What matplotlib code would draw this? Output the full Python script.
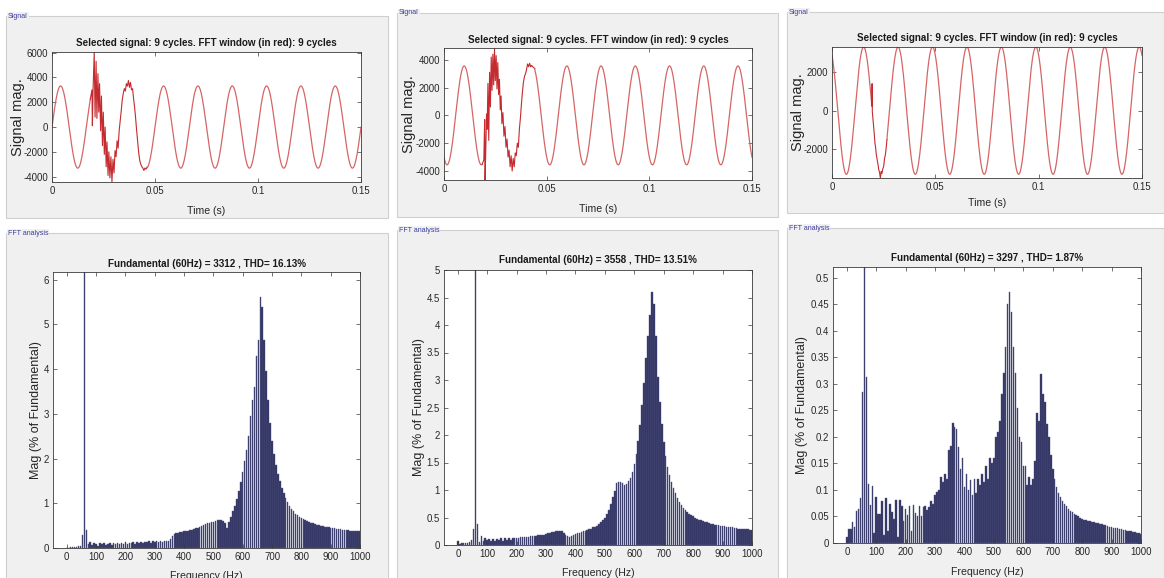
import matplotlib
matplotlib.use("Agg")
import matplotlib.pyplot as plt
import numpy as np
from matplotlib.patches import Rectangle
from matplotlib.ticker import FuncFormatter, MultipleLocator

FONT = ["Liberation Sans Narrow", "Liberation Sans", "DejaVu Sans"]
plt.rcParams["font.family"] = FONT
plt.rcParams["axes.unicode_minus"] = False

# ---------------------------------------------------------------- data
FUND_HZ = 60.0
BIN_HZ = FUND_HZ / 9.0          # 9-cycle window -> 6.67 Hz resolution
N_BINS = 151                    # 0 .. 1000 Hz

case_fundamental = [3312, 3558, 3297]
case_thd = ["16.13%", "13.51%", "1.87%"]
case_peak_time = [0.00417, 0.00983, 0.0153]   # time of first positive peak (s)

# disturbed part of each recorded waveform (time s, value)
dist1_t = [0.0186, 0.0194, 0.0196, 0.0199, 0.0205, 0.0209, 0.0214, 0.0218, 0.0223,
           0.0227, 0.0231, 0.0236, 0.0240, 0.0245, 0.0249, 0.0254, 0.0258, 0.0263,
           0.0267, 0.0272, 0.0276, 0.0281, 0.0286, 0.0291, 0.0296, 0.0301, 0.0306,
           0.0311, 0.0316, 0.0321, 0.0326, 0.0331, 0.0336, 0.0341, 0.0346, 0.0351,
           0.0356, 0.0361, 0.0366, 0.0371, 0.0376, 0.0381, 0.0386, 0.0391, 0.0396,
           0.0401, 0.0406, 0.0411, 0.0416, 0.0421, 0.0426, 0.0431, 0.0436, 0.0441,
           0.0446, 0.0451, 0.0456, 0.0461]
dist1_v = [2250, 3000, 100, 2800, 6050, 800, 5300, 700, 4300,
           1200, 3500, -300, 2500, -1500, 1200, -2200, 0, -3200,
           -1200, -3900, -2000, -4100, -2400, -4430, -2600, -3700, -1900,
           -2400, -1100, -1700, -300, 500, 1300, 2200, 2700, 3100,
           2900, 3500, 3300, 3750, 3200, 3600, 3000, 3100, 2300,
           1600, 700, -300, -1200, -2100, -2700, -3000, -3200, -3300,
           -3500, -3300, -3400, -3250]

dist2_t = [0.0186, 0.0194, 0.0198, 0.0200, 0.0203, 0.0207, 0.0210, 0.0214, 0.0218,
           0.0222, 0.0226, 0.0230, 0.0234, 0.0238, 0.0242, 0.0246, 0.0250, 0.0254,
           0.0258, 0.0262, 0.0266, 0.0270, 0.0274, 0.0278, 0.0282, 0.0287, 0.0292,
           0.0297, 0.0302, 0.0307, 0.0312, 0.0317, 0.0322, 0.0327, 0.0332, 0.0337,
           0.0342, 0.0347, 0.0352, 0.0357, 0.0362, 0.0367, 0.0372, 0.0377, 0.0382,
           0.0387, 0.0392, 0.0397, 0.0402, 0.0407, 0.0412, 0.0417, 0.0422, 0.0427,
           0.0432, 0.0437, 0.0442]
dist2_v = [-3520, -3200, -300, -4650, -2800, 100, -1000, 2300, -1800,
           3100, 600, 4200, 1800, 4400, 2200, 4800, 2500, 4300,
           1900, 3800, 1500, 2600, 400, 1400, -600, 200, -1500,
           -800, -2300, -1700, -3000, -2500, -3700, -2900, -4000, -3100,
           -3700, -2700, -2900, -2000, -2300, -1000, -200, 800, 1700,
           2400, 2800, 3000, 3300, 3700, 3500, 3750, 3500, 3600,
           3500, 3450, 3350]

dist3_t = [0.01930, 0.01940, 0.01945, 0.01950, 0.0200, 0.0204, 0.0208, 0.0211,
           0.0214, 0.0218, 0.0222, 0.0226, 0.0230, 0.0234, 0.0238, 0.0242, 0.0246,
           0.0250, 0.0254, 0.0258, 0.0262, 0.0266]
dist3_v = [250, 1400, 1000, -50, -650, -1150, -1700, -1900,
           -2250, -2500, -2750, -3050, -3200, -3490, -3150, -3250, -3000,
           -2900, -2500, -2300, -1950, -1500]

signal_ylim = [(-4430, 6050), (-4650, 4850), (-3490, 3300)]
signal_yticks = [[-4000, -2000, 0, 2000, 4000, 6000],
                 [-4000, -2000, 0, 2000, 4000],
                 [-2000, 0, 2000]]

# harmonic spectrum, % of fundamental, one value per 6.67 Hz bin (0..1000 Hz)
spec1 = [0.01, 0.01, 0.02, 0.02, 0.02, 0.03, 0.04, 0.05, 0.28, 100,
         0.40, 0.08, 0.13, 0.06, 0.12, 0.09, 0.05, 0.11, 0.08, 0.12,
         0.06, 0.10, 0.12, 0.07, 0.11, 0.09, 0.12, 0.08, 0.12, 0.10,
         0.13, 0.09, 0.12, 0.11, 0.13, 0.10, 0.13, 0.12, 0.14, 0.11,
         0.14, 0.13, 0.15, 0.12, 0.15, 0.14, 0.15, 0.14, 0.15, 0.14,
         0.15, 0.15, 0.15, 0.20, 0.27, 0.31, 0.33, 0.34, 0.35, 0.36,
         0.37, 0.38, 0.39, 0.40, 0.41, 0.42, 0.44, 0.45, 0.47, 0.49,
         0.51, 0.53, 0.55, 0.56, 0.58, 0.59, 0.61, 0.62, 0.63, 0.62,
         0.60, 0.55, 0.45, 0.58, 0.70, 0.82, 0.95, 1.10, 1.28, 1.48,
         1.70, 1.95, 2.20, 2.50, 2.95, 3.30, 3.60, 4.30, 4.65, 5.62,
         5.38, 4.65, 3.95, 3.30, 2.80, 2.40, 2.10, 1.85, 1.65, 1.50,
         1.35, 1.22, 1.12, 1.03, 0.95, 0.88, 0.82, 0.77, 0.73, 0.70,
         0.67, 0.64, 0.62, 0.60, 0.58, 0.56, 0.55, 0.53, 0.52, 0.51,
         0.50, 0.49, 0.48, 0.47, 0.46, 0.45, 0.44, 0.44, 0.43, 0.42,
         0.42, 0.41, 0.41, 0.40, 0.40, 0.39, 0.39, 0.38, 0.38, 0.37, 0.37]

spec2 = [0.07, 0.02, 0.03, 0.03, 0.04, 0.04, 0.05, 0.09, 0.30, 100,
         0.38, 0.06, 0.17, 0.07, 0.13, 0.09, 0.11, 0.07, 0.11, 0.08,
         0.11, 0.09, 0.12, 0.08, 0.12, 0.10, 0.12, 0.10, 0.13, 0.12,
         0.13, 0.13, 0.14, 0.14, 0.15, 0.15, 0.15, 0.16, 0.16, 0.17,
         0.17, 0.18, 0.18, 0.19, 0.19, 0.20, 0.21, 0.22, 0.23, 0.24,
         0.25, 0.26, 0.26, 0.25, 0.22, 0.19, 0.16, 0.15, 0.17, 0.18,
         0.20, 0.21, 0.22, 0.23, 0.25, 0.26, 0.27, 0.29, 0.30, 0.32,
         0.33, 0.35, 0.38, 0.41, 0.45, 0.49, 0.56, 0.64, 0.74, 0.88,
         0.98, 1.12, 1.15, 1.15, 1.12, 1.10, 1.11, 1.16, 1.22, 1.33,
         1.48, 1.66, 1.90, 2.18, 2.55, 2.95, 3.40, 3.80, 4.18, 4.60,
         4.38, 3.80, 3.05, 2.60, 2.20, 1.88, 1.62, 1.42, 1.27, 1.14,
         1.03, 0.94, 0.86, 0.79, 0.73, 0.68, 0.64, 0.60, 0.57, 0.54,
         0.52, 0.50, 0.48, 0.46, 0.45, 0.43, 0.42, 0.41, 0.40, 0.39,
         0.38, 0.37, 0.36, 0.36, 0.35, 0.34, 0.34, 0.33, 0.33, 0.32,
         0.32, 0.31, 0.31, 0.30, 0.30, 0.30, 0.29, 0.29, 0.29, 0.28, 0.28]

spec3 = [0.012, 0.027, 0.027, 0.039, 0.030, 0.060, 0.065, 0.084, 0.284, 100,
         0.312, 0.112, 0.071, 0.107, 0.018, 0.087, 0.054, 0.054, 0.079, 0.015,
         0.085, 0.022, 0.073, 0.059, 0.046, 0.081, 0.012, 0.081, 0.069, 0.042,
         0.065, 0.052, 0.069, 0.022, 0.072, 0.056, 0.050, 0.069, 0.050, 0.067,
         0.069, 0.062, 0.068, 0.079, 0.073, 0.090, 0.096, 0.099, 0.124, 0.115,
         0.130, 0.120, 0.175, 0.183, 0.226, 0.218, 0.215, 0.180, 0.140, 0.160,
         0.105, 0.130, 0.100, 0.118, 0.090, 0.120, 0.095, 0.120, 0.110, 0.130,
         0.115, 0.145, 0.120, 0.160, 0.150, 0.160, 0.200, 0.210, 0.230, 0.280,
         0.320, 0.370, 0.450, 0.472, 0.435, 0.370, 0.320, 0.255, 0.200, 0.190,
         0.145, 0.145, 0.110, 0.125, 0.110, 0.120, 0.155, 0.245, 0.230, 0.318,
         0.280, 0.265, 0.225, 0.200, 0.165, 0.140, 0.120, 0.105, 0.095, 0.087,
         0.080, 0.074, 0.069, 0.065, 0.061, 0.058, 0.055, 0.052, 0.050, 0.048,
         0.046, 0.044, 0.043, 0.042, 0.041, 0.040, 0.039, 0.038, 0.037, 0.036,
         0.035, 0.034, 0.033, 0.032, 0.031, 0.030, 0.029, 0.028, 0.028, 0.027,
         0.026, 0.025, 0.024, 0.023, 0.023, 0.022, 0.021, 0.020, 0.019, 0.018, 0.017]

spec_ylim = [6.17, 5.0, 0.52]
spec_ystep = [1, 0.5, 0.05]

# ---------------------------------------------------------------- layout (pixels)
W, H = 1164, 578
fig = plt.figure(figsize=(W / 100, H / 100), dpi=100)
fig.patch.set_facecolor("white")

PANEL_BG = "#f0f0f0"
PANEL_EDGE = "#cfcfcf"
LABEL_BLUE = "#3a3aa0"
TXT = "#262626"
BAR_FACE = "#2f3163"
BAR_EDGE = "#55587f"
LINE_RED = "#d66565"
LINE_DARK = "#c42a2e"

sig_panels = [(6, 16, 388, 218), (397, 13, 778, 217), (787, 12, 1164, 213)]
fft_panels = [(6, 233, 388, 600), (397, 230, 778, 600), (787, 228, 1164, 600)]
sig_axes = [(52, 52, 361, 182), (444, 48, 752, 180), (832, 47, 1142, 178)]
fft_axes = [(53, 272, 360, 548), (444, 270, 752, 545), (833, 267, 1141, 543)]


def rect(l, t, r, b):
    return [l / W, 1 - b / H, (r - l) / W, (b - t) / H]


def panel(box, label):
    l, t, r, b = box
    fig.add_artist(Rectangle((l / W, 1 - b / H), (r - l) / W, (b - t) / H,
                             transform=fig.transFigure, facecolor=PANEL_BG,
                             edgecolor=PANEL_EDGE, linewidth=0.8, zorder=0))
    fig.text((l + 2) / W, 1 - t / H, label, fontsize=5.0, color=LABEL_BLUE,
             ha="left", va="center", zorder=2,
             bbox=dict(facecolor=PANEL_BG, edgecolor="none", pad=0.6))


def style_axes(ax):
    ax.set_facecolor("white")
    for s in ax.spines.values():
        s.set_color("#3a3a3a")
        s.set_linewidth(0.6)
    ax.tick_params(direction="in", top=True, right=True, length=3, width=0.5,
                   colors="#3a3a3a", labelcolor=TXT, labelsize=6.9, pad=3)


def gfmt(v, _):
    return ("%g" % v)


def place_labels(ax, box, title, title_y, xlabel, xlabel_y, ylabel, ylabel_x, ylabel_size):
    l, t, r, b = box
    wpx, hpx = r - l, b - t
    ax.set_title(title, fontsize=7.1, fontweight="bold", color="#1a1a1a",
                 y=(b - title_y) / hpx, va="center", pad=0)
    ax.set_xlabel(xlabel, fontsize=7.6, color=TXT)
    ax.xaxis.label.set_va("center")
    ax.xaxis.set_label_coords(0.5, (b - xlabel_y) / hpx)
    ax.set_ylabel(ylabel, fontsize=ylabel_size, color=TXT)
    ax.yaxis.label.set_va("center")
    ax.yaxis.set_label_coords((ylabel_x - l) / wpx, 0.5)


def waveform(amp, t_peak, dt, dv):
    t = np.linspace(0.0, 0.15, 4001)
    v = amp * np.cos(2 * np.pi * FUND_HZ * (t - t_peak))
    before = t < dt[0]
    after = t > dt[-1]
    return (t[before], v[before]), (np.array(dt), np.array(dv)), (t[after], v[after])


dist_t = [dist1_t, dist2_t, dist3_t]
dist_v = [dist1_v, dist2_v, dist3_v]
spectra = [spec1, spec2, spec3]
sig_title_y = [43, 40, 38]
sig_xlabel_y = [211, 209, 203]
sig_ylabel_x = [18, 409, 798]
fft_title_y = [264, 260, 258]
fft_xlabel_y = [576, 573, 572]
fft_ylabel_x = [36, 419, 802]

freqs = np.arange(N_BINS) * BIN_HZ

for i in range(3):
    panel(sig_panels[i], "Signal")
    panel(fft_panels[i], "FFT analysis")

    # ---- time signal
    ax = fig.add_axes(rect(*sig_axes[i]))
    style_axes(ax)
    pre, dist, post = waveform(case_fundamental[i], case_peak_time[i], dist_t[i], dist_v[i])
    ax.plot(np.concatenate([pre[0], dist[0][:1]]), np.concatenate([pre[1], dist[1][:1]]),
            color=LINE_RED, lw=0.9)
    ax.plot(dist[0], dist[1], color=LINE_DARK, lw=0.8)
    ax.plot(np.concatenate([dist[0][-1:], post[0]]), np.concatenate([dist[1][-1:], post[1]]),
            color=LINE_RED, lw=0.9)
    ax.set_xlim(0, 0.15)
    ax.set_ylim(*signal_ylim[i])
    ax.set_xticks([0, 0.05, 0.1, 0.15])
    ax.set_yticks(signal_yticks[i])
    ax.xaxis.set_major_formatter(FuncFormatter(gfmt))
    ax.yaxis.set_major_formatter(FuncFormatter(gfmt))
    place_labels(ax, sig_axes[i], "Selected signal: 9 cycles. FFT window (in red): 9 cycles",
                 sig_title_y[i], "Time (s)", sig_xlabel_y[i], "Signal mag.",
                 sig_ylabel_x[i], 10.5)

    # ---- spectrum
    ax = fig.add_axes(rect(*fft_axes[i]))
    style_axes(ax)
    ax.bar(freqs, spectra[i], width=BIN_HZ * 0.8, color=BAR_FACE,
           edgecolor=BAR_EDGE, linewidth=0.3)
    ax.set_xlim(-47, 1000)
    ax.set_ylim(0, spec_ylim[i])
    ax.set_xticks(np.arange(0, 1001, 100))
    ax.yaxis.set_major_locator(MultipleLocator(spec_ystep[i]))
    ax.xaxis.set_major_formatter(FuncFormatter(gfmt))
    ax.yaxis.set_major_formatter(FuncFormatter(gfmt))
    title = "Fundamental (60Hz) = %d , THD= %s" % (case_fundamental[i], case_thd[i])
    place_labels(ax, fft_axes[i], title, fft_title_y[i], "Frequency (Hz)",
                 fft_xlabel_y[i], "Mag (% of Fundamental)", fft_ylabel_x[i], 9.0)

fig.savefig("out.png", dpi=100, facecolor="white")
